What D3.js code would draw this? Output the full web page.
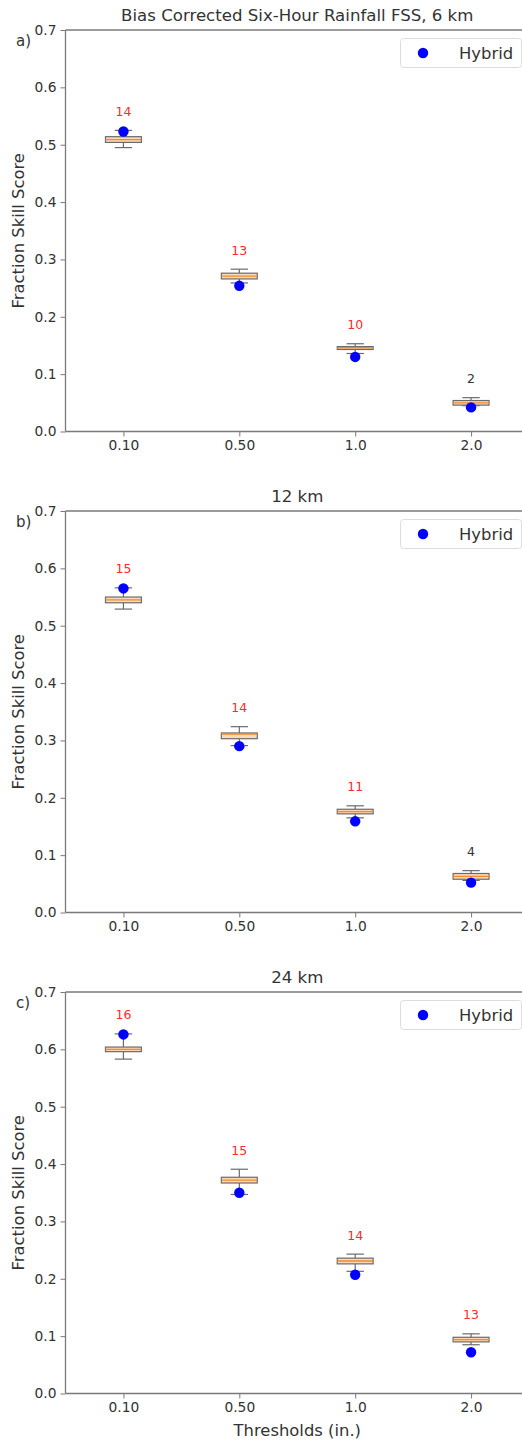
<!DOCTYPE html>
<html>
<head>
<meta charset="utf-8">
<script src="https://cdn.jsdelivr.net/npm/d3@7"></script>
<style>
html,body{margin:0;padding:0;background:#fff;overflow:hidden;}
svg{display:block;font-family:"DejaVu Sans",sans-serif;}
</style>
</head>
<body>
<svg id="chart" width="522" height="1442"></svg>
<script>
// ---- data ----
const thresholds = ["0.10", "0.50", "1.0", "2.0"];
const panelTitles = ["Bias Corrected Six-Hour Rainfall FSS, 6 km", "12 km", "24 km"];
const panelLetters = ["a)", "b)", "c)"];
const yTicks = [0.0, 0.1, 0.2, 0.3, 0.4, 0.5, 0.6, 0.7];

// panel a (6 km)
const lowA    = [0.495, 0.259, 0.136, 0.045];
const q1A     = [0.504, 0.266, 0.143, 0.046];
const medA    = [0.509, 0.271, 0.146, 0.050];
const q3A     = [0.514, 0.276, 0.148, 0.054];
const highA   = [0.525, 0.283, 0.153, 0.059];
const hybridA = [0.523, 0.254, 0.130, 0.042];
const countA  = [14, 13, 10, 2];
const sigA    = [1, 1, 1, 0];

// panel b (12 km)
const lowB    = [0.529, 0.291, 0.165, 0.056];
const q1B     = [0.540, 0.303, 0.172, 0.058];
const medB    = [0.545, 0.311, 0.176, 0.063];
const q3B     = [0.550, 0.313, 0.180, 0.068];
const highB   = [0.566, 0.324, 0.186, 0.073];
const hybridB = [0.565, 0.290, 0.159, 0.052];
const countB  = [15, 14, 11, 4];
const sigB    = [1, 1, 1, 0];

// panel c (24 km)
const lowC    = [0.583, 0.347, 0.213, 0.085];
const q1C     = [0.596, 0.367, 0.226, 0.090];
const medC    = [0.600, 0.372, 0.231, 0.094];
const q3C     = [0.604, 0.377, 0.236, 0.098];
const highC   = [0.627, 0.391, 0.243, 0.104];
const hybridC = [0.626, 0.350, 0.207, 0.072];
const countC  = [16, 15, 14, 13];
const sigC    = [1, 1, 1, 1];

const panels = [
  {low: lowA, q1: q1A, med: medA, q3: q3A, high: highA, hybrid: hybridA, count: countA, sig: sigA},
  {low: lowB, q1: q1B, med: medB, q3: q3B, high: highB, hybrid: hybridB, count: countB, sig: sigB},
  {low: lowC, q1: q1C, med: medC, q3: q3C, high: highC, hybrid: hybridC, count: countC, sig: sigC}
];

// ---- layout ----
const svg = d3.select("#chart");
const left = 65.5, right = 529;
const panelTop = [30, 511, 992];
const panelH = 401.5;
const axisColor = "#7a7a7a";
const textColor = "#333";

const x = d3.scaleLinear().domain([0.5, 4.5]).range([left, right]);
const boxHalf = 0.155, capHalf = 0.075;

panels.forEach((p, pi) => {
  const top = panelTop[pi], bottom = top + panelH;
  const y = d3.scaleLinear().domain([0, 0.7]).range([bottom, top]);
  const g = svg.append("g");

  // axes
  const yAxis = g.append("g").attr("transform", `translate(${left},0)`)
    .call(d3.axisLeft(y).tickValues(yTicks).tickFormat(d3.format(".1f")).tickSize(5).tickPadding(4));
  const xAxis = g.append("g").attr("transform", `translate(0,${bottom})`)
    .call(d3.axisBottom(x).tickValues([1, 2, 3, 4]).tickFormat((d, i) => thresholds[i]).tickSize(5).tickPadding(4));
  [yAxis, xAxis].forEach(a => {
    a.select(".domain").remove();
    a.selectAll(".tick line").attr("stroke", axisColor).attr("stroke-width", 1);
    a.selectAll(".tick text").attr("fill", textColor).style("font-size", "13.8px").style("font-family", "DejaVu Sans");
  });
  // spines
  g.append("line").attr("x1", left).attr("x2", left).attr("y1", top).attr("y2", bottom)
    .attr("stroke", axisColor).attr("stroke-width", 1.3);
  g.append("line").attr("x1", left).attr("x2", right).attr("y1", bottom).attr("y2", bottom)
    .attr("stroke", axisColor).attr("stroke-width", 1.3);
  g.append("line").attr("x1", left).attr("x2", right).attr("y1", top).attr("y2", top)
    .attr("stroke", axisColor).attr("stroke-width", 1.3);
  g.append("line").attr("x1", right).attr("x2", right).attr("y1", top).attr("y2", bottom)
    .attr("stroke", axisColor).attr("stroke-width", 1.3);

  // title
  g.append("text").attr("x", (left + right) / 2).attr("y", top - 9)
    .attr("text-anchor", "middle").attr("fill", textColor)
    .style("font-size", "16.6px").text(panelTitles[pi]);
  // panel letter
  g.append("text").attr("x", 16).attr("y", top + 16)
    .attr("fill", textColor).style("font-size", "15px").text(panelLetters[pi]);
  // y label
  g.append("text").attr("transform", `translate(24,${(top + bottom) / 2}) rotate(-90)`)
    .attr("text-anchor", "middle").attr("fill", textColor)
    .style("font-size", "16.4px").text("Fraction Skill Score");

  // boxes
  thresholds.forEach((t, i) => {
    const c = i + 1;
    const bg = g.append("g");
    // whiskers
    bg.append("line").attr("x1", x(c)).attr("x2", x(c)).attr("y1", y(p.q3[i])).attr("y2", y(p.high[i]))
      .attr("stroke", "#6b6b6b").attr("stroke-width", 1.2);
    bg.append("line").attr("x1", x(c)).attr("x2", x(c)).attr("y1", y(p.q1[i])).attr("y2", y(p.low[i]))
      .attr("stroke", "#6b6b6b").attr("stroke-width", 1.2);
    // caps
    [p.high[i], p.low[i]].forEach(v => {
      bg.append("line").attr("x1", x(c - capHalf)).attr("x2", x(c + capHalf)).attr("y1", y(v)).attr("y2", y(v))
        .attr("stroke", "#6b6b6b").attr("stroke-width", 1.2);
    });
    // box
    bg.append("rect").attr("x", x(c - boxHalf)).attr("width", x(c + boxHalf) - x(c - boxHalf))
      .attr("y", y(p.q3[i])).attr("height", y(p.q1[i]) - y(p.q3[i]))
      .attr("fill", "#fbd9b9").attr("stroke", "#6b6b6b").attr("stroke-width", 1.2);
    // median
    bg.append("line").attr("x1", x(c - boxHalf)).attr("x2", x(c + boxHalf)).attr("y1", y(p.med[i])).attr("y2", y(p.med[i]))
      .attr("stroke", "#f08a2c").attr("stroke-width", 1.3);
    // hybrid point
    bg.append("circle").attr("cx", x(c)).attr("cy", y(p.hybrid[i])).attr("r", 5.2).attr("fill", "#0000ff");
    // count label
    bg.append("text").attr("x", x(c)).attr("y", y(p.high[i]) - 19)
      .attr("text-anchor", "middle").attr("dominant-baseline", "central")
      .attr("fill", p.sig[i] ? "#ff2a2a" : textColor)
      .style("font-size", "12.5px").text(p.count[i]);
  });

  // legend
  const lg = g.append("g");
  lg.append("rect").attr("x", 400.5).attr("y", top + 8.5).attr("width", 121).attr("height", 29).attr("rx", 3)
    .attr("fill", "#fff").attr("stroke", "#dddddd").attr("stroke-width", 1);
  lg.append("circle").attr("cx", 423).attr("cy", top + 23).attr("r", 5.2).attr("fill", "#0000ff");
  lg.append("text").attr("x", 459).attr("y", top + 23).attr("dominant-baseline", "central")
    .attr("fill", textColor).style("font-size", "16.4px").text("Hybrid");
});

// x label
svg.append("text").attr("x", (left + right) / 2).attr("y", panelTop[2] + panelH + 42)
  .attr("text-anchor", "middle").attr("fill", textColor)
  .style("font-size", "16.4px").text("Thresholds (in.)");
</script>
</body>
</html>
